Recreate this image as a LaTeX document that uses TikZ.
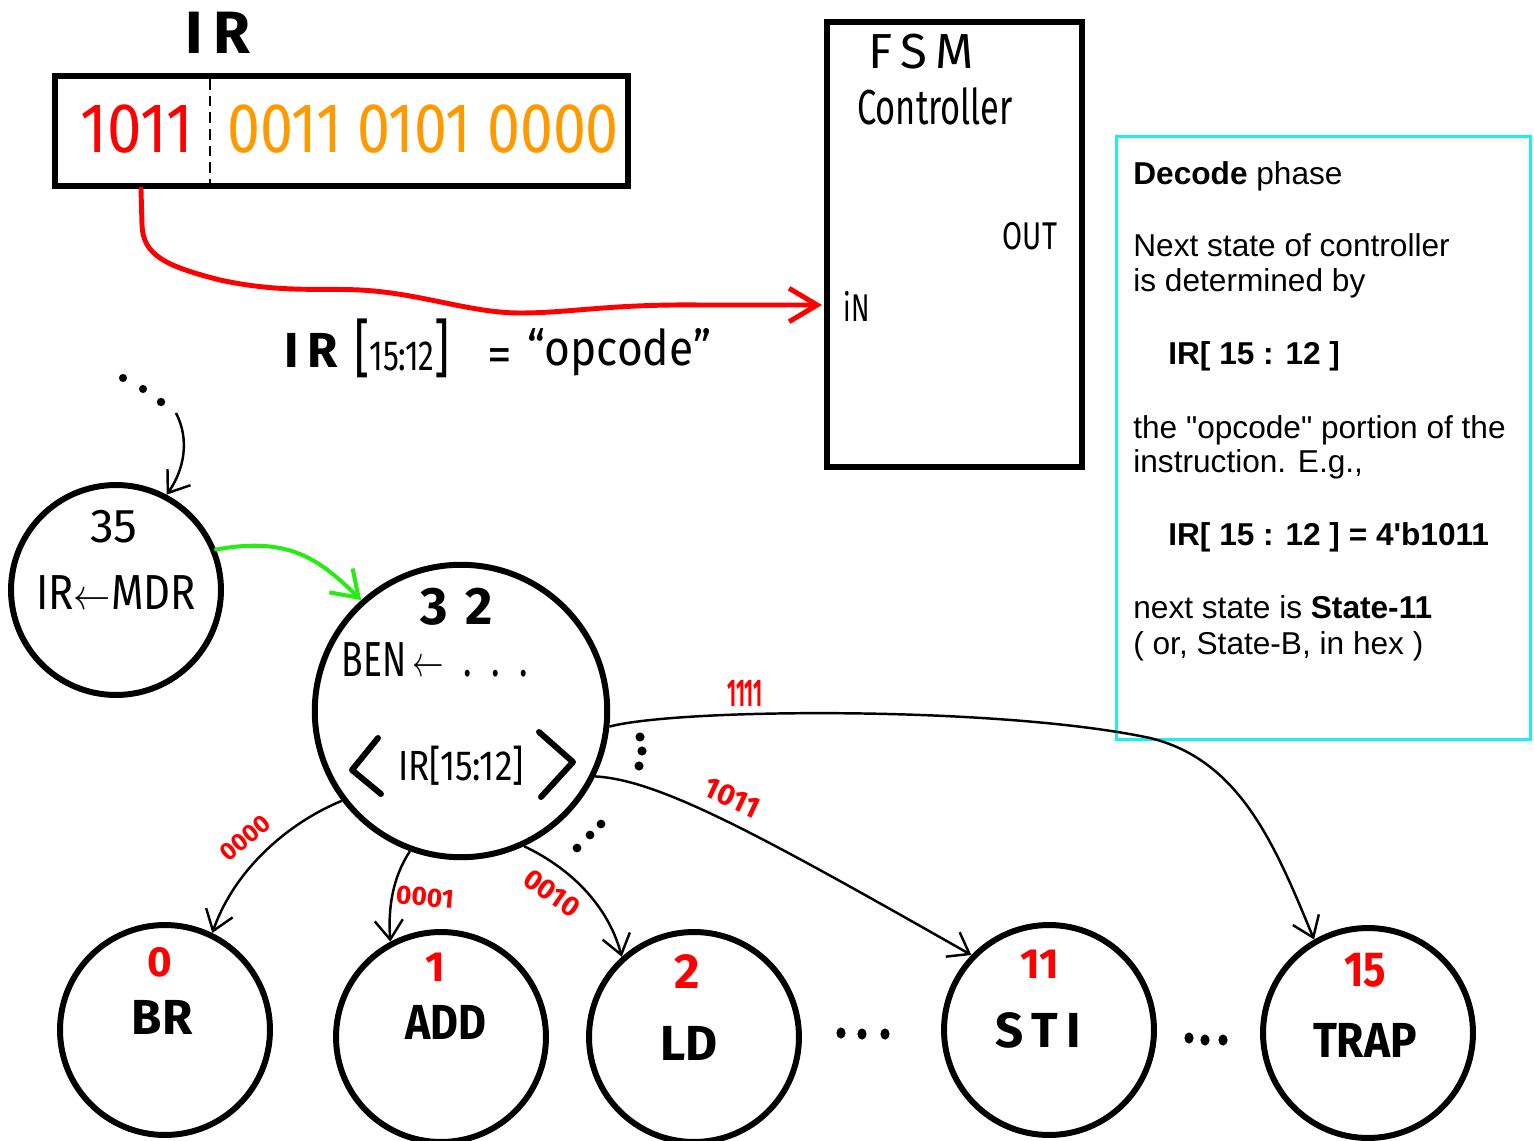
\documentclass[tikz,border=0pt]{standalone}
\usepackage{fontspec}
\usepackage{graphicx}
\setmainfont{Liberation Sans}
\newfontfamily\notefont{Liberation Sans}
\newfontfamily\handfont{Fira Sans}
\usetikzlibrary{arrows.meta,calc}

\definecolor{opred}{RGB}{255,0,0}
\definecolor{oporange}{RGB}{255,153,0}
\definecolor{arrowgreen}{RGB}{40,235,20}
\definecolor{boxcyan}{RGB}{30,238,238}

\newcommand\hwsize[1]{\fontsize{#1}{#1}\selectfont}
\newcommand\narrowto[2]{\scalebox{#1}[1]{#2}}

\tikzset{
  hand/.style={inner sep=0pt, font=\handfont\hwsize{#1}},
  hand/.default=28,
  handbold/.style={inner sep=0pt, font=\handfont\bfseries\hwsize{#1}},
  handbold/.default=28,
  thickbox/.style={draw, line width=3.4pt, inner sep=0pt},
  state/.style={circle, draw, line width=3.4pt, minimum size=4.2cm, inner sep=0pt},
  trans/.style={line width=1.4pt, -{Straight Barb[length=11pt,width=16pt]}},
  bitlabel/.style={handbold=#1, text=opred},
  note/.style={anchor=base west, inner sep=0pt, font=\notefont\hwsize{18}},
  bolddot/.style={fill=black}
}

\begin{document}
\begin{tikzpicture}[x=0.02cm,y=-0.02cm]
\useasboundingbox (0,0) rectangle (1534,1141);

% ---------------- instruction register ----------------
\node[handbold=34] (irtitle) at (218,33) {I\,R};
\node[thickbox, minimum width=11.46cm, minimum height=2.2cm] (irbox) at (341.5,131) {};
\draw[line width=1.4pt, dash pattern=on 6pt off 3.5pt] (210,79) -- (210,186);
\node[hand=40, text=opred] (opbits) at (137,129) {\narrowto{.88}{1011}};
\node[hand=40, text=oporange] (restbits) at (423,129) {\narrowto{.84}{0011 0101 0000}};

% ---------------- FSM controller ----------------
\node[thickbox, minimum width=5.1cm, minimum height=8.9cm] (fsm) at (954.5,244.5) {};
\node[hand=28] (fsmtitle) at (921,52) {F\,S\,M};
\node[hand=28] (fsmctrl) at (935,106) {\narrowto{.7}{Controller}};
\node[hand=22] (fsmout) at (1030,236) {\narrowto{.75}{OUT}};
\node[hand=22] (fsmin) at (857,306) {\narrowto{.7}{iN}};

% opcode wire into the controller
\coordinate (irtap) at (141,189);
\coordinate (fsmport) at (822,305);
\draw[opred, line width=2.8pt, line cap=round, -{Straight Barb[length=16pt,width=19pt]}]
  (irtap) -- (142,225) .. controls (143,255) and (165,266) .. (220,280)
  .. controls (280,293) and (320,288) .. (360,290)
  .. controls (420,293) and (470,313) .. (520,313)
  .. controls (570,313) and (610,304) .. (700,305) -- (fsmport);

\node[handbold=28] (opir) at (311,350) {I\,R};
\node[hand=24] (opfield) at (402,348) {\narrowto{.75}{{\hwsize{36}[}15:12{\hwsize{36}]}}};
\node[hand=28] (opeq) at (500,360) {=};
\node[hand=28] (opname) at (619,352) {\narrowto{.9}{“opcode”}};

% ---------------- explanation panel ----------------
\node[draw=boxcyan, line width=1.7pt, minimum width=8.28cm, minimum height=12.06cm, inner sep=0pt] (notebox) at (1323.5,438) {};
\node[note] (n1) at (1133,185) {\textbf{Decode} phase};
\node[note] (n2) at (1133,257) {Next state of controller};
\node[note] (n3) at (1133,292) {is determined by};
\node[note] (n4) at (1168,365) {\textbf{IR[ 15 : 12 ]}};
\node[note] (n5) at (1133,439) {the "opcode" portion of the};
\node[note] (n6) at (1133,473) {instruction. E.g.,};
\node[note] (n7) at (1168,546) {\textbf{IR[ 15 : 12 ] = 4'b1011}};
\node[note] (n8) at (1133,618) {next state is \textbf{State-11}};
\node[note] (n9) at (1133,654) {( or, State-B, in hex )};

% ---------------- state 35 ----------------
\node[state] (s35) at (116,590) {};
\node[hand=27] (s35num) at (114,527) {35};
\node[hand=28] (s35act) at (116,593) {\narrowto{.85}{IR$\leftarrow$MDR}};

\fill[bolddot] (123,378) circle[radius=2.3pt];
\fill[bolddot] (143,389) circle[radius=2.3pt];
\fill[bolddot] (161,402) circle[radius=2.4pt];
\coordinate (fromprev) at (176,413);
\draw[trans] (fromprev) .. controls (190,440) and (184,470) .. (s35.62);

% ---------------- state 32 ----------------
\node[state, minimum size=5.85cm] (s32) at (461,711) {};
\node[handbold=30] (s32num) at (457,607) {3\,\,2};
\node[hand=28] (s32ben) at (435,660) {\narrowto{.72}{BEN\,$\leftarrow$\;\;.\;\;.\;\;.}};
\node[hand=24] (s32ir) at (461,766) {\narrowto{.83}{IR[15:12]}};
\draw[line width=3.4pt, line cap=round, line join=round] (378,738) -- (352,770) -- (381,794);
\draw[line width=3.4pt, line cap=round, line join=round] (539,732) -- (573,762) -- (541,797);

\draw[arrowgreen, line width=2.3pt, line cap=round, -{Straight Barb[length=14pt,width=19pt]}]
  (s35.22) .. controls (290,536) and (320,560) .. (s32.132);

% ---------------- decoded states ----------------
\node[state] (s0) at (165,1030) {};
\node[handbold=24, text=opred] (s0num) at (160,962) {0};
\node[handbold=28] (s0name) at (162,1017) {BR};

\node[state] (s1) at (441,1037) {};
\node[handbold=24, text=opred] (s1num) at (435,967) {1};
\node[handbold=28] (s1name) at (446,1022) {\narrowto{.87}{ADD}};

\node[state] (s2) at (694,1037) {};
\node[handbold=28, text=opred] (s2num) at (687,972) {2};
\node[handbold=28] (s2name) at (689,1043) {LD};

\node[state] (s11) at (1049,1030) {};
\node[handbold=24, text=opred] (s11num) at (1040,964) {11};
\node[handbold=28] (s11name) at (1038,1030) {S\,T\,I};

\node[state] (s15) at (1368,1033) {};
\node[handbold=28, text=opred] (s15num) at (1365,970) {\narrowto{.85}{15}};
\node[handbold=28] (s15name) at (1365,1040) {\narrowto{.9}{TRAP}};

% elided states
\fill[bolddot] (841,1033) ellipse[x radius=2.6pt, y radius=3.2pt];
\fill[bolddot] (862,1034) ellipse[x radius=2.6pt, y radius=3.2pt];
\fill[bolddot] (885,1034) ellipse[x radius=2.6pt, y radius=3.2pt];
\fill[bolddot] (1189,1038) ellipse[x radius=2.6pt, y radius=3.2pt];
\fill[bolddot] (1205,1040) ellipse[x radius=2.6pt, y radius=3.2pt];
\fill[bolddot] (1223,1040) ellipse[x radius=2.6pt, y radius=3.2pt];

\fill[bolddot] (640,737) circle[radius=2.6pt];
\fill[bolddot] (642,751) circle[radius=2.6pt];
\fill[bolddot] (639,766) circle[radius=2.6pt];
\fill[bolddot] (577,848) circle[radius=2.5pt];
\fill[bolddot] (590,835) circle[radius=2.5pt];
\fill[bolddot] (601,824) circle[radius=2.5pt];

% ---------------- decode transitions ----------------
\draw[trans] (s32.217) .. controls (290,822) and (235,868) .. (s0.64);
\draw[trans] (s32.250) .. controls (392,878) and (388,910) .. (s1.118);
\draw[trans] (s32.295) .. controls (570,868) and (608,905) .. (s2.132);
\draw[trans] (s32.334) .. controls (660,780) and (760,835) .. (s11.136);
\draw[trans] (s32.354) .. controls (680,708) and (1000,706) .. (1150,738)
  .. controls (1240,760) and (1275,845) .. (s15.120);

\node[bitlabel=14, rotate=40] (l0) at (245,838) {0000};
\node[bitlabel=15, rotate=-5] (l1) at (425,897) {0001};
\node[bitlabel=16, rotate=-35] (l2) at (552,893) {0010};
\node[bitlabel=17, rotate=-25] (l11) at (732,798) {1011};
\node[bitlabel=22] (l15) at (745,693) {\narrowto{.5}{1111}};

\end{tikzpicture}
\end{document}
